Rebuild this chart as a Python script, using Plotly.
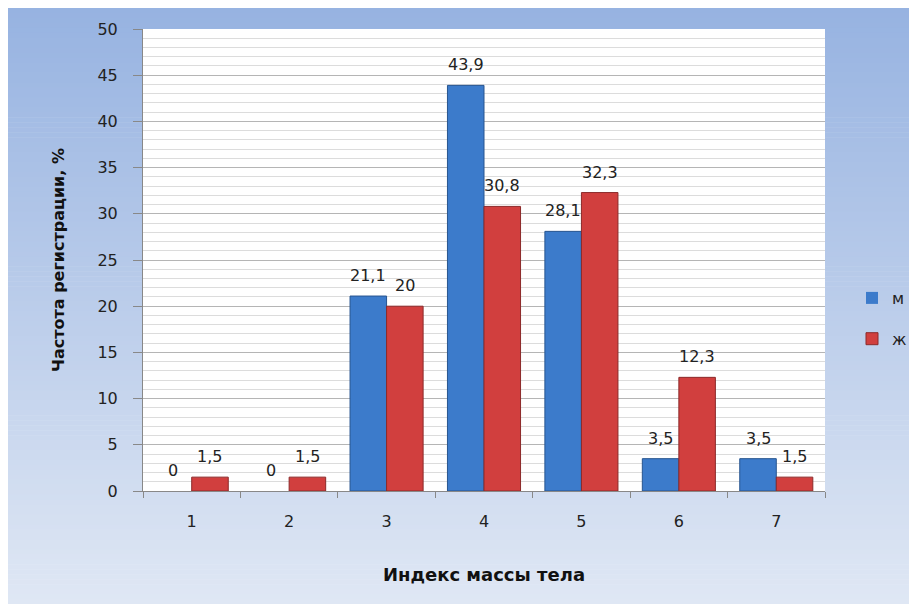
import plotly.graph_objects as go

categories = ["1", "2", "3", "4", "5", "6", "7"]
male = [0, 0, 21.1, 43.9, 28.1, 3.5, 3.5]
female = [1.5, 1.5, 20, 30.8, 32.3, 12.3, 1.5]
series_names = ["м", "ж"]
y_ticks = [0, 5, 10, 15, 20, 25, 30, 35, 40, 45, 50]
x_title = "Индекс массы тела"
y_title = "Частота регистрации, %"


def fmt(v):
    return ("%g" % v).replace(".", ",")


# figure is placed 8px from the page corner (body margin)
W, H = 909, 596
L, R, T, B = 135, 817, 21, 483
pw, ph = R - L, B - T
BARGAP = 0.25

fig = go.Figure()
series = [(male, series_names[0], "#3C7BCB", "#27558F"),
          (female, series_names[1], "#D13F3E", "#8C2A2A")]
for k, (vals, name, col, edge) in enumerate(series):
    fig.add_trace(go.Bar(
        x=categories, y=vals, name=name, legendgroup=name,
        marker=dict(color=col,
                    line=dict(color=edge, width=[0 if v == 0 else 1 for v in vals])),
    ))

# data labels above the bars (x given as category index on the category axis)
cat_px = pw / len(categories)
bar_px = cat_px * (1 - BARGAP) / len(series)
annotations = []
for k, (vals, name, col, edge) in enumerate(series):
    shift = (k - (len(series) - 1) / 2) * bar_px
    for ci, v in enumerate(vals):
        annotations.append(dict(
            x=ci, y=v, xref="x", yref="y", text=fmt(v), showarrow=False,
            xanchor="center", yanchor="bottom", xshift=shift, yshift=9,
            font=dict(family="DejaVu Sans", size=16, color="#222222"),
        ))

# gradient background (strips) + white plot area
shapes = []
n = 120
c0 = (0x97, 0xB3, 0xE1)
c1 = (0xDF, 0xE7, 0xF4)
for i in range(n):
    y0p = H * i / n
    y1p = H * (i + 1) / n + 0.6
    t = i / (n - 1)
    col = "rgb(%d,%d,%d)" % tuple(round(a + (b - a) * t) for a, b in zip(c0, c1))
    shapes.append(dict(
        type="rect", xref="paper", yref="paper", layer="below",
        x0=(-2 - L) / pw, x1=(W + 5 - L) / pw,
        y0=(B - y1p) / ph, y1=(B - y0p) / ph,
        fillcolor=col, line=dict(width=0),
    ))
shapes.append(dict(type="rect", xref="paper", yref="paper", layer="below",
                   x0=0, x1=1, y0=0, y1=1, fillcolor="white", line=dict(width=0)))

fig.update_layout(
    width=W, height=H,
    margin=dict(l=L, r=W - R, t=T, b=H - B, autoexpand=False),
    paper_bgcolor="white", plot_bgcolor="white",
    barmode="group", bargap=BARGAP, bargroupgap=0,
    shapes=shapes, annotations=annotations,
    font=dict(family="DejaVu Sans", size=16, color="#222222"),
    showlegend=True,
    legend=dict(x=(844 - L) / pw, y=(B - 273) / ph, xanchor="left", yanchor="top",
                bgcolor="rgba(0,0,0,0)", tracegroupgap=17, itemwidth=30,
                font=dict(family="DejaVu Sans", size=16, color="#222222")),
    xaxis=dict(
        type="category", tickson="boundaries", ticks="outside", ticklen=6,
        tickcolor="#888888", showline=True, linecolor="#888888", linewidth=1,
        showgrid=False, tickfont=dict(family="DejaVu Sans", size=16),
        ticklabelstandoff=16, range=[-0.5, len(categories) - 0.5],
        title=dict(text="<b>" + x_title + "</b>", standoff=38,
                   font=dict(family="DejaVu Sans", size=18, color="#111111")),
    ),
    yaxis=dict(
        range=[0, 50], tickvals=y_ticks, ticks="outside", ticklen=9,
        tickcolor="#888888", showline=True, linecolor="#888888", linewidth=1,
        showgrid=True, gridcolor="#B5B5B5", gridwidth=1,
        minor=dict(dtick=1, showgrid=True, gridcolor="#DCDCDC", gridwidth=1),
        zeroline=False, tickfont=dict(family="DejaVu Sans", size=16),
        ticklabelstandoff=12,
        title=dict(text="<b>" + y_title + "</b>", standoff=28,
                   font=dict(family="DejaVu Sans", size=16, color="#111111")),
    ),
)

fig.write_html("out.html")
